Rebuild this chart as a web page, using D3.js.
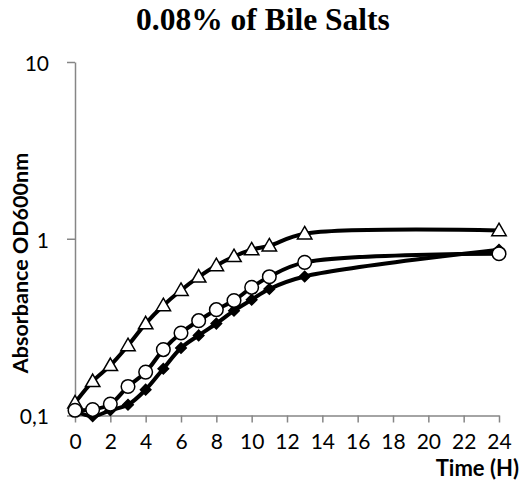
<!DOCTYPE html>
<html>
<head>
<meta charset="utf-8">
<script src="https://cdn.jsdelivr.net/npm/d3@7"></script>
<style>
  body { margin: 0; background: #fff; }
  svg { display: block; }
</style>
</head>
<body>
<svg width="521" height="488"></svg>
<script>
// time points (hours)
const hours = [0, 1, 2, 3, 4, 5, 6, 7, 8, 9, 10, 11, 13, 24];

// absorbance values
const triangleVals = [0.118, 0.156, 0.192, 0.249, 0.331, 0.419, 0.511, 0.608, 0.706, 0.794, 0.867, 0.913, 1.067, 1.114];
const diamondVals  = [0.106, 0.099, 0.107, 0.115, 0.140, 0.184, 0.241, 0.284, 0.331, 0.392, 0.452, 0.520, 0.612, 0.867];
const circleVals   = [0.107, 0.108, 0.116, 0.146, 0.176, 0.236, 0.293, 0.344, 0.397, 0.447, 0.531, 0.610, 0.735, 0.823];

const xTicks = [0, 2, 4, 6, 8, 10, 12, 14, 16, 18, 20, 22, 24];
const yTicks = [0.1, 1, 10];
const yTickLabels = ["0,1", "1", "10"];

const margin = {top: 62, right: 22, bottom: 72.5, left: 75};
const width = 521 - margin.left - margin.right;
const height = 488 - margin.top - margin.bottom;

const svg = d3.select('svg');
const g = svg.append('g')
  .attr('transform', `translate(${margin.left}, ${margin.top})`);

const x = d3.scaleLinear().domain([0, 24]).range([0, width]);
const y = d3.scaleLog().domain([0.1, 10]).range([height, 0]);

const axisColor = '#868686';
const tickFont = 'Lato, "Open Sans", sans-serif';

// x axis
const xAxis = d3.axisBottom(x).tickValues(xTicks).tickSize(7).tickSizeOuter(0).tickPadding(12);
const xAxisG = g.append('g').attr('transform', `translate(0, ${height})`).call(xAxis);

// y axis
const yAxis = d3.axisLeft(y).tickValues(yTicks).tickSize(8).tickSizeOuter(0).tickPadding(18)
  .tickFormat((d, i) => yTickLabels[i]);
const yAxisG = g.append('g').call(yAxis);

[xAxisG, yAxisG].forEach(a => {
  a.select('.domain').attr('stroke', axisColor).attr('stroke-width', 1.5);
  a.selectAll('.tick line').attr('stroke', axisColor).attr('stroke-width', 1.5);
  a.selectAll('.tick text')
    .attr('fill', '#000')
    .style('font-family', tickFont)
    .style('font-size', '21px');
});
yAxisG.selectAll('.tick text').attr('dy', '0.4em');

// series
const series = [
  {name: 'triangle', vals: triangleVals},
  {name: 'diamond', vals: diamondVals},
  {name: 'circle', vals: circleVals}
];

const line = d3.line()
  .x(d => x(d[0]))
  .y(d => y(d[1]))
  .curve(d3.curveCatmullRom.alpha(0.5));

series.forEach(s => {
  const pts = hours.map((h, i) => [h, s.vals[i]]);
  g.append('path')
    .datum(pts)
    .attr('fill', 'none')
    .attr('stroke', '#000')
    .attr('stroke-width', 4)
    .attr('d', line);

  let sym, fill;
  if (s.name == 'triangle') { sym = d3.symbol().type(d3.symbolTriangle).size(90); fill = '#fff'; }
  else if (s.name == 'diamond') { sym = d3.symbol().type(d3.symbolSquare).size(55); fill = '#000'; }
  else { sym = d3.symbol().type(d3.symbolCircle).size(145); fill = '#fff'; }

  g.selectAll('.m-' + s.name)
    .data(pts)
    .join('path')
    .attr('class', 'm-' + s.name)
    .attr('d', sym)
    .attr('transform', d => `translate(${x(d[0])}, ${y(d[1])})` + (s.name == 'diamond' ? ' rotate(45)' : '') + (s.name == 'triangle' ? ' translate(0,1)' : ''))
    .attr('fill', fill)
    .attr('stroke', '#000')
    .attr('stroke-width', 1.5);
});

// title
svg.append('text')
  .attr('x', 263)
  .attr('y', 30)
  .attr('text-anchor', 'middle')
  .style('font-family', '"Liberation Serif", "Times New Roman", serif')
  .style('font-weight', 'bold')
  .style('font-size', '31.5px')
  .text('0.08% of Bile Salts');

// y axis title
svg.append('text')
  .attr('transform', 'translate(28, 263) rotate(-90)')
  .attr('text-anchor', 'middle')
  .style('font-family', tickFont)
  .style('font-weight', 'bold')
  .style('font-size', '21.5px')
  .text('Absorbance OD600nm');

// x axis title
svg.append('text')
  .attr('x', 519)
  .attr('y', 476)
  .attr('text-anchor', 'end')
  .style('font-family', tickFont)
  .style('font-weight', 'bold')
  .style('font-size', '22px')
  .text('Time (H)');
</script>
</body>
</html>
